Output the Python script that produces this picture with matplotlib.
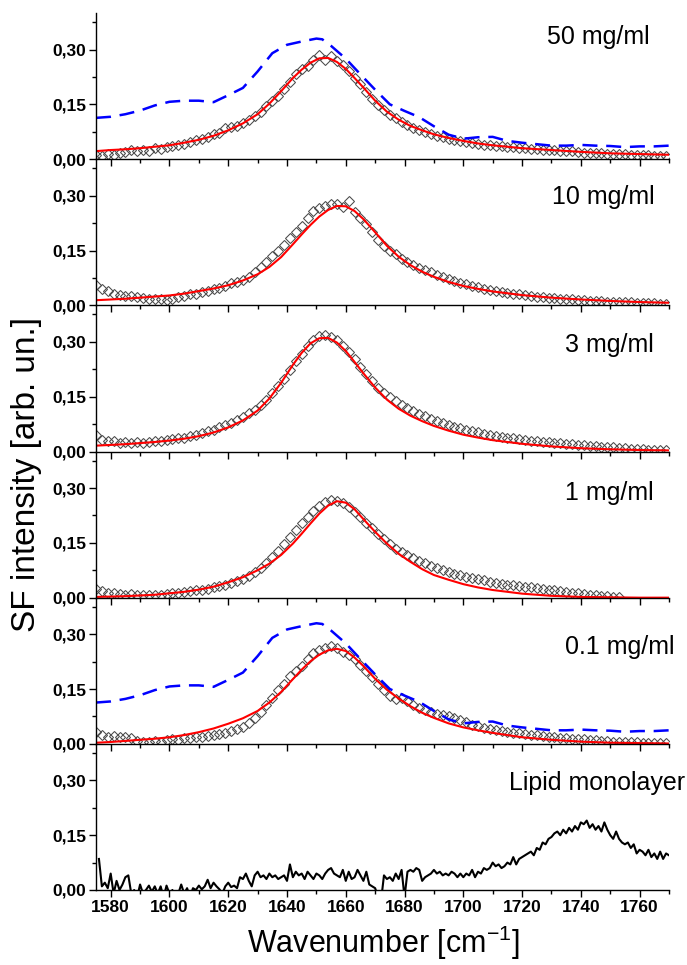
import numpy as np
import matplotlib
matplotlib.use("Agg")
import matplotlib.pyplot as plt
from matplotlib.ticker import FuncFormatter, MultipleLocator, FixedLocator

plt.rcParams['font.family'] = ['Liberation Sans', 'DejaVu Sans']
plt.rcParams['mathtext.default'] = 'regular'

# ---- data ----
panel_labels = ['50 mg/ml', '10 mg/ml', '3 mg/ml', '1 mg/ml', '0.1 mg/ml', 'Lipid monolayer']

# measured points (open diamonds), every 2 cm-1
wn_pts = np.arange(1575, 1771, 2)
nan = np.nan
pts_50 = [0.012, 0.010, 0.014, 0.012, 0.018, 0.020, 0.024, 0.021, 0.026, 0.022,
          0.030, 0.028, 0.033, 0.036, 0.040, 0.042, 0.048, 0.052, 0.056, 0.062,
          0.068, 0.072, 0.085, 0.088, 0.092, 0.098, 0.108, 0.118, 0.130, 0.145,
          0.160, 0.172, 0.192, 0.212, 0.232, 0.246, 0.255, 0.272, 0.284, 0.272,
          0.282, 0.270, 0.258, 0.242, 0.222, 0.205, 0.185, 0.165, 0.148, 0.135,
          0.122, 0.112, 0.102, 0.094, 0.086, 0.080, 0.074, 0.068, 0.064, 0.060,
          0.055, 0.052, 0.050, 0.047, 0.045, 0.042, 0.040, 0.038, 0.037, 0.035,
          0.034, 0.032, 0.031, 0.030, 0.028, 0.027, 0.026, 0.025, 0.024, 0.022,
          0.022, 0.021, 0.019, 0.018, 0.018, 0.016, 0.016, 0.015, 0.014, 0.013,
          0.013, 0.012, 0.012, 0.011, 0.011, 0.010, 0.010, 0.010]
pts_10 = [0.057, 0.045, 0.038, 0.032, 0.028, 0.025, 0.026, 0.022, 0.020, 0.018,
          0.018, 0.016, 0.015, 0.018, 0.022, 0.026, 0.030, 0.032, 0.036, 0.040,
          0.044, 0.048, 0.052, 0.060, 0.064, 0.070, 0.078, 0.090, 0.104, 0.118,
          0.134, 0.150, 0.166, 0.183, 0.200, 0.218, 0.240, 0.258, 0.266, 0.272,
          0.276, 0.278, 0.270, 0.285, 0.256, 0.240, 0.222, 0.200, 0.180, 0.163,
          0.150, 0.140, 0.128, 0.118, 0.110, 0.103, 0.096, 0.090, 0.083, 0.077,
          0.072, 0.066, 0.062, 0.058, 0.054, 0.050, 0.046, 0.043, 0.040, 0.037,
          0.034, 0.032, 0.030, 0.028, 0.026, 0.024, 0.023, 0.021, 0.020, 0.018,
          0.017, 0.016, 0.015, 0.014, 0.013, 0.012, 0.011, 0.010, 0.010, 0.009,
          0.008, 0.008, 0.007, 0.007, 0.006, 0.006, 0.005, 0.005]
pts_3 = [0.045, 0.032, 0.028, 0.030, 0.024, 0.026, 0.022, 0.026, 0.024, 0.027,
         0.028, 0.030, 0.031, 0.033, 0.036, 0.038, 0.042, 0.046, 0.050, 0.055,
         0.060, 0.066, 0.072, 0.078, 0.086, 0.094, 0.104, 0.114, 0.126, 0.142,
         0.160, 0.178, 0.198, 0.222, 0.248, 0.268, 0.290, 0.305, 0.316, 0.318,
         0.314, 0.305, 0.290, 0.272, 0.252, 0.232, 0.212, 0.192, 0.175, 0.160,
         0.148, 0.138, 0.128, 0.118, 0.110, 0.102, 0.096, 0.089, 0.083, 0.078,
         0.072, 0.068, 0.063, 0.059, 0.056, 0.052, 0.049, 0.046, 0.043, 0.040,
         0.038, 0.036, 0.034, 0.032, 0.030, 0.029, 0.027, 0.026, 0.024, 0.023,
         0.021, 0.020, 0.019, 0.017, 0.016, 0.015, 0.013, 0.012, 0.011, 0.010,
         0.009, 0.008, 0.007, 0.006, 0.005, 0.005, 0.004, 0.004]
pts_1 = [0.025, 0.018, 0.014, 0.012, 0.010, 0.008, 0.010, 0.008, 0.006, 0.008,
         0.007, 0.008, 0.010, 0.012, 0.014, 0.016, 0.018, 0.020, 0.022, 0.025,
         0.028, 0.032, 0.036, 0.040, 0.046, 0.052, 0.060, 0.070, 0.082, 0.096,
         0.112, 0.128, 0.146, 0.165, 0.185, 0.205, 0.222, 0.238, 0.250, 0.262,
         0.268, 0.265, 0.258, 0.248, 0.235, 0.220, 0.205, 0.190, 0.175, 0.160,
         0.146, 0.134, 0.124, 0.116, 0.108, 0.100, 0.094, 0.088, 0.082, 0.076,
         0.070, 0.065, 0.061, 0.057, 0.053, 0.050, 0.047, 0.044, 0.041, 0.038,
         0.036, 0.034, 0.032, 0.030, 0.028, 0.026, 0.024, 0.022, 0.020, 0.018,
         0.016, 0.014, 0.012, 0.010, 0.008, 0.007, 0.005, 0.004, 0.003, 0.002,
         nan, nan, nan, nan, nan, nan, nan, nan]
pts_01 = [0.032, 0.024, 0.020, 0.022, 0.018, 0.020, 0.016, 0.008, 0.006, 0.005,
          0.008, 0.006, 0.010, 0.012, 0.011, 0.015, 0.016, 0.018, 0.020, 0.022,
          0.025, 0.028, 0.030, 0.034, 0.040, 0.047, 0.058, 0.070, 0.086, 0.106,
          0.125, 0.146, 0.165, 0.185, 0.200, 0.214, 0.232, 0.248, 0.256, 0.263,
          0.268, 0.262, 0.252, 0.242, 0.232, 0.217, 0.200, 0.182, 0.165, 0.146,
          0.130, 0.122, 0.126, 0.118, 0.106, 0.099, 0.093, 0.088, 0.083, 0.079,
          0.075, 0.070, 0.064, 0.059, 0.052, 0.048, 0.044, 0.041, 0.038, 0.035,
          0.032, 0.030, 0.029, 0.027, 0.025, 0.023, 0.021, 0.020, 0.018, 0.017,
          0.016, 0.014, 0.013, 0.012, 0.011, 0.010, 0.008, 0.007, 0.006, 0.006,
          0.005, 0.004, 0.004, 0.003, 0.003, 0.002, 0.002, 0.002]

# fitted curves (red)
wn_fit = [1575, 1580, 1585, 1590, 1595, 1600, 1605, 1610, 1615, 1620, 1625, 1630,
          1634, 1638, 1642, 1645, 1648, 1651, 1654, 1657, 1660, 1663, 1666,
          1670, 1674, 1678, 1682, 1686, 1690, 1695, 1700, 1705, 1710,
          1720, 1730, 1740, 1750, 1760, 1770]
fit_50 = [0.022, 0.025, 0.027, 0.030, 0.034, 0.038, 0.045, 0.053, 0.064, 0.079, 0.098, 0.123,
          0.152, 0.186, 0.222, 0.245, 0.264, 0.276, 0.277, 0.266, 0.247, 0.222, 0.196,
          0.160, 0.130, 0.108, 0.091, 0.079, 0.068, 0.058, 0.050, 0.043, 0.038,
          0.030, 0.025, 0.020, 0.016, 0.014, 0.012]
fit_10 = [0.014, 0.016, 0.018, 0.021, 0.024, 0.027, 0.032, 0.039, 0.046, 0.055, 0.068, 0.085,
          0.105, 0.132, 0.167, 0.194, 0.220, 0.243, 0.261, 0.272, 0.271, 0.258, 0.236,
          0.200, 0.163, 0.133, 0.110, 0.092, 0.078, 0.064, 0.053, 0.045, 0.038,
          0.028, 0.021, 0.016, 0.012, 0.009, 0.007]
fit_3 = [0.016, 0.018, 0.020, 0.023, 0.026, 0.030, 0.035, 0.042, 0.052, 0.066, 0.085, 0.112,
         0.145, 0.188, 0.237, 0.270, 0.296, 0.310, 0.311, 0.298, 0.275, 0.245, 0.214,
         0.175, 0.142, 0.117, 0.098, 0.083, 0.070, 0.057, 0.046, 0.038, 0.031,
         0.021, 0.014, 0.009, 0.006, 0.004, 0.003]
fit_1 = [0.002, 0.003, 0.004, 0.006, 0.008, 0.012, 0.016, 0.022, 0.030, 0.042, 0.056, 0.075,
         0.093, 0.117, 0.148, 0.175, 0.203, 0.230, 0.252, 0.264, 0.260, 0.242, 0.215,
         0.180, 0.148, 0.120, 0.098, 0.078, 0.062, 0.049, 0.037, 0.028, 0.021,
         0.011, 0.005, 0.002, 0.001, 0.000, 0.000]
fit_01 = [0.003, 0.005, 0.008, 0.011, 0.014, 0.018, 0.024, 0.032, 0.042, 0.055, 0.070, 0.090,
          0.113, 0.142, 0.177, 0.203, 0.226, 0.244, 0.256, 0.260, 0.254, 0.236, 0.213,
          0.178, 0.148, 0.124, 0.103, 0.085, 0.071, 0.056, 0.045, 0.037, 0.030,
          0.018, 0.011, 0.006, 0.003, 0.002, 0.001]

# reference spectrum (blue dashed), shown in 50 and 0.1 mg/ml panels
wn_ref = [1575, 1580, 1585, 1590, 1595, 1600, 1605, 1610, 1615, 1620, 1625, 1630, 1635,
          1640, 1645, 1650, 1652, 1655, 1660, 1665, 1670, 1675, 1680, 1685, 1690, 1695,
          1700, 1705, 1710, 1715, 1720, 1725, 1730, 1735, 1740, 1745, 1750, 1755, 1760,
          1765, 1770]
ref_int = [0.113, 0.116, 0.123, 0.133, 0.147, 0.157, 0.160, 0.160, 0.156, 0.175, 0.195, 0.240, 0.290,
           0.313, 0.322, 0.330, 0.328, 0.310, 0.275, 0.232, 0.190, 0.150, 0.132, 0.115, 0.090, 0.067,
           0.056, 0.060, 0.061, 0.050, 0.045, 0.041, 0.037, 0.037, 0.039, 0.037, 0.036, 0.033, 0.035,
           0.035, 0.037]

# lipid monolayer, every 1 cm-1 from 1576
wn_lipid = np.arange(1576, 1771, 1)
lipid = [0.085, 0.010, 0.020, 0.005, 0.045, -0.010, 0.025, 0.000, 0.015, 0.035,
         0.040, -0.010, 0.000, -0.020, 0.015, -0.010, 0.000, 0.012, -0.005, 0.010,
         -0.010, 0.010, -0.020, 0.012, -0.010, 0.000, -0.020, -0.010, 0.015, -0.010,
         0.005, -0.020, 0.005, 0.000, 0.012, 0.002, 0.010, 0.028, 0.005, 0.020,
         0.010, 0.002, -0.010, 0.010, 0.020, 0.008, 0.012, 0.005, 0.035, 0.030,
         0.045, 0.025, 0.010, 0.040, 0.050, 0.035, 0.040, 0.030, 0.045, 0.035,
         0.040, 0.030, 0.035, 0.040, 0.025, 0.070, 0.035, 0.050, 0.040, 0.045,
         0.030, 0.050, 0.040, 0.030, 0.045, 0.040, 0.030, 0.045, 0.055, 0.060,
         0.045, 0.040, 0.035, 0.055, 0.025, 0.050, 0.030, 0.035, 0.055, 0.040,
         0.025, 0.050, 0.015, 0.010, 0.005, -0.020, -0.030, 0.040, 0.030, 0.035,
         0.025, 0.045, 0.030, 0.055, -0.020, 0.050, 0.055, 0.050, 0.060, 0.055,
         0.025, 0.035, 0.040, 0.045, 0.055, 0.045, 0.050, 0.040, 0.045, 0.040,
         0.050, 0.045, 0.035, 0.045, 0.035, 0.045, 0.040, 0.055, 0.035, 0.050,
         0.045, 0.060, 0.055, 0.060, 0.075, 0.065, 0.070, 0.060, 0.065, 0.075,
         0.070, 0.090, 0.070, 0.085, 0.090, 0.095, 0.100, 0.105, 0.095, 0.115,
         0.110, 0.130, 0.125, 0.140, 0.145, 0.155, 0.160, 0.150, 0.165, 0.155,
         0.170, 0.160, 0.175, 0.165, 0.185, 0.180, 0.190, 0.170, 0.180, 0.165,
         0.175, 0.160, 0.185, 0.165, 0.150, 0.140, 0.160, 0.140, 0.130, 0.125,
         0.130, 0.115, 0.125, 0.100, 0.110, 0.105, 0.095, 0.110, 0.090, 0.100,
         0.085, 0.105, 0.085, 0.100, 0.095]

points = [pts_50, pts_10, pts_3, pts_1, pts_01]
fits = [fit_50, fit_10, fit_3, fit_1, fit_01]
show_ref = [True, False, False, False, True]

# label positions in pixels (left x, centre y)
label_pos = [(547, 37), (552, 197), (565, 345), (565, 493), (565, 647), (509, 783)]

W, H = 687, 965
fig = plt.figure(figsize=(W / 100, H / 100), dpi=100)
gs = fig.add_gridspec(6, 1, left=96 / W, right=669 / W, top=1 - 13 / H,
                      bottom=1 - 890 / H, hspace=0)
axes = [fig.add_subplot(gs[i]) for i in range(6)]

comma = FuncFormatter(lambda v, p: ('%.2f' % v).replace('.', ','))

for i, ax in enumerate(axes):
    ax.set_facecolor('none')  # so the next panel does not hide this one's bottom spine
    if i < 5:
        ax.plot(wn_pts, points[i], linestyle='none', marker='D', ms=4.6,
                mfc='none', mec='#4a4a4a', mew=0.75, zorder=2)
        ax.plot(wn_fit, fits[i], color='#ff0000', lw=1.5, zorder=3)
        if show_ref[i]:
            ax.plot(wn_ref, ref_int, color='#0000ff', lw=1.8, dashes=(6, 3.5), zorder=4)
    else:
        ax.plot(wn_lipid, lipid, color='black', lw=1.5)

    ax.set_xlim(1575, 1770)
    ax.set_ylim(0, 0.40)
    ax.spines['top'].set_visible(False)
    ax.spines['right'].set_visible(False)
    for s in ('left', 'bottom'):
        ax.spines[s].set_linewidth(1.0)
        ax.spines[s].set_color('black')
        ax.spines[s].set_zorder(5)
    ax.xaxis.set_major_locator(MultipleLocator(20))
    ax.xaxis.set_minor_locator(MultipleLocator(10))
    ax.yaxis.set_major_locator(FixedLocator([0, 0.15, 0.30]))
    ax.yaxis.set_minor_locator(FixedLocator([0.075, 0.225, 0.375]))
    ax.yaxis.set_major_formatter(comma)
    ax.tick_params(which='major', direction='out', length=5, width=1.0)
    ax.tick_params(which='minor', direction='out', length=3, width=1.0)
    ax.tick_params(labelsize=12.5, pad=2)
    for t in ax.get_yticklabels():
        t.set_fontweight('bold')
    if i < 5:
        ax.tick_params(labelbottom=False)
    else:
        for t in ax.get_xticklabels():
            t.set_fontweight('bold')

    lx, ly = label_pos[i]
    fig.text(lx / W, 1 - ly / H, panel_labels[i], fontsize=18, ha='left', va='center')

fig.text(27 / W, 1 - 475 / H, 'SF intensity [arb. un.]', fontsize=24,
         rotation=90, ha='center', va='center')
fig.text(383 / W, 1 - 943 / H, 'Wavenumber [cm$^{-1}$]', fontsize=22,
         ha='center', va='center')

fig.savefig('out.png', dpi=100)
